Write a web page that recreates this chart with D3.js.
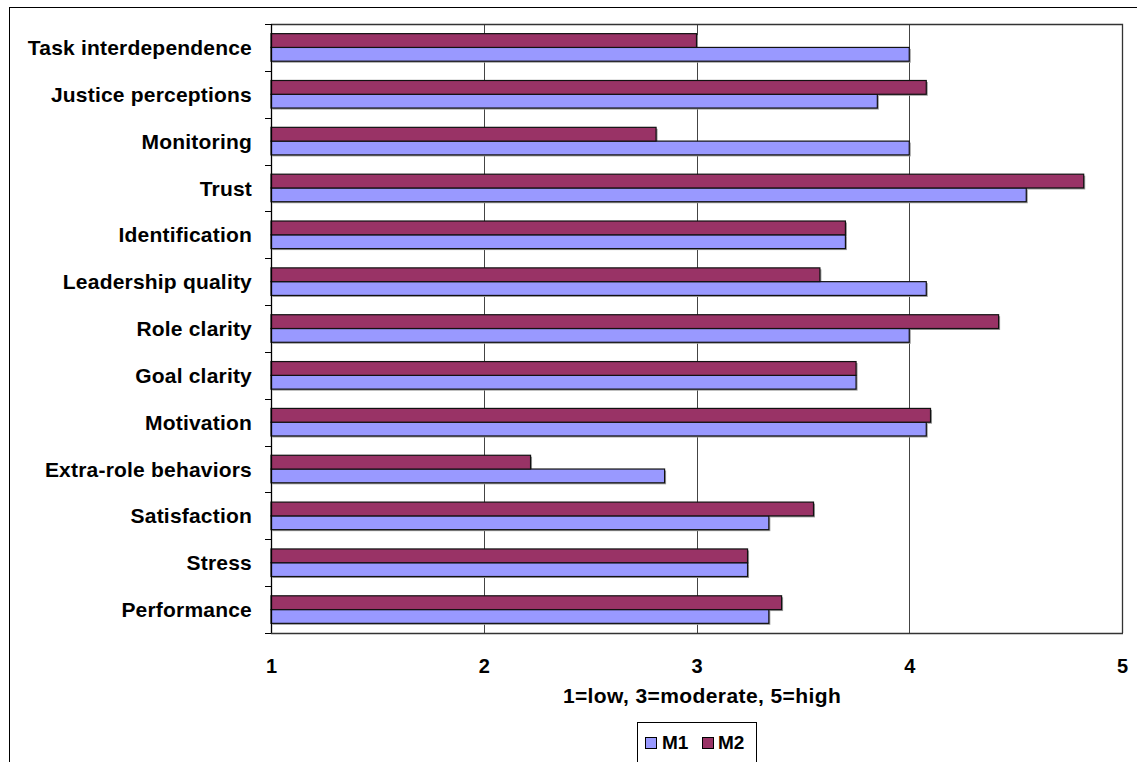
<!DOCTYPE html>
<html>
<head>
<meta charset="utf-8">
<script src="https://cdn.jsdelivr.net/npm/d3@7"></script>
<style>
  html, body { margin: 0; padding: 0; background: #fff; }
  svg { display: block; }
  text { font-family: "Liberation Sans", Arial, sans-serif; font-weight: bold; fill: #000; }
</style>
</head>
<body>
<svg id="chart" width="1137" height="762"></svg>
<script>
// Team perception scores, two measurement points (M1, M2)
const categories = [
  "Task interdependence", "Justice perceptions", "Monitoring", "Trust",
  "Identification", "Leadership quality", "Role clarity", "Goal clarity",
  "Motivation", "Extra-role behaviors", "Satisfaction", "Stress", "Performance"
];
const seriesNames = ["M1", "M2"];
const m1Values = [4.00, 3.85, 4.00, 4.55, 3.70, 4.08, 4.00, 3.75, 4.08, 2.85, 3.34, 3.24, 3.34];
const m2Values = [3.00, 4.08, 2.81, 4.82, 3.70, 3.58, 4.42, 3.75, 4.10, 2.22, 3.55, 3.24, 3.40];
const xTicks = [1, 2, 3, 4, 5];
const xTitle = "1=low, 3=moderate, 5=high";

const colors = { M1: "#9999FF", M2: "#993366" };

const svg = d3.select("#chart");
const plot = { left: 271, right: 1122, top: 24, bottom: 633 };

// outer chart frame
svg.append("rect")
  .attr("x", 9.5).attr("y", 7.5)
  .attr("width", 1140).attr("height", 770)
  .attr("fill", "#fff").attr("stroke", "#000").attr("stroke-width", 1);

const x = d3.scaleLinear().domain([1, 5]).range([plot.left, plot.right]);
const y = d3.scaleBand().domain(categories).range([plot.top, plot.bottom]).padding(0);
// within each category M2 sits above M1
const ySub = d3.scaleBand().domain(["M2", "M1"]).range([0, y.bandwidth()]).paddingInner(0).paddingOuter(0.7);

// vertical gridlines
svg.append("g")
  .selectAll("line")
  .data(xTicks.slice(1, -1))
  .join("line")
  .attr("x1", d => Math.round(x(d)) + 0.5).attr("x2", d => Math.round(x(d)) + 0.5)
  .attr("y1", plot.top).attr("y2", plot.bottom)
  .attr("stroke", "#444").attr("stroke-width", 1);

// plot area border (top and right)
svg.append("path")
  .attr("d", `M${plot.left},${plot.top + 0.5}H${plot.right + 0.5}V${plot.bottom}`)
  .attr("fill", "none").attr("stroke", "#333").attr("stroke-width", 1.3);

const rows = categories.map((c, i) => ({ cat: c, M1: m1Values[i], M2: m2Values[i] }));
const barData = rows.flatMap(r => seriesNames.map(s => ({ cat: r.cat, series: s, value: r[s] })));

const bars = svg.append("g");
// soft drop shadow under each bar
bars.selectAll("rect.shadow")
  .data(barData)
  .join("rect")
  .attr("class", "shadow")
  .attr("x", x(1) + 1.5)
  .attr("y", d => y(d.cat) + ySub(d.series) + 1.5)
  .attr("width", d => x(d.value) - x(1))
  .attr("height", ySub.bandwidth())
  .attr("fill", "#9a9a9a");

bars.selectAll("rect.bar")
  .data(barData)
  .join("rect")
  .attr("class", "bar")
  .attr("x", x(1))
  .attr("y", d => y(d.cat) + ySub(d.series))
  .attr("width", d => x(d.value) - x(1))
  .attr("height", ySub.bandwidth())
  .attr("fill", d => colors[d.series])
  .attr("stroke", "#111").attr("stroke-width", 1.2);

// category axis
const yAxis = d3.axisLeft(y).tickSize(0).tickPadding(19);
const gy = svg.append("g").attr("transform", `translate(${plot.left},0)`).call(yAxis);
gy.select(".domain").remove();
gy.selectAll("text")
  .attr("font-size", 21).attr("letter-spacing", 0.2).attr("font-family", null).attr("fill", "#000")
  .attr("dy", "0.36em");

// axis line with ticks at category boundaries
const boundaries = categories.map(c => y(c)).concat([plot.bottom]);
svg.append("g").selectAll("line")
  .data(boundaries)
  .join("line")
  .attr("x1", plot.left - 6).attr("x2", plot.left)
  .attr("y1", d => Math.round(d) + 0.5).attr("y2", d => Math.round(d) + 0.5)
  .attr("stroke", "#000");
svg.append("line")
  .attr("x1", plot.left + 0.5).attr("x2", plot.left + 0.5)
  .attr("y1", plot.top).attr("y2", plot.bottom + 0.5)
  .attr("stroke", "#000").attr("stroke-width", 1.3);
svg.append("line")
  .attr("x1", plot.left).attr("x2", plot.right + 1)
  .attr("y1", plot.bottom + 0.5).attr("y2", plot.bottom + 0.5)
  .attr("stroke", "#333").attr("stroke-width", 1.3);

// value axis labels
const xAxis = d3.axisBottom(x).tickValues(xTicks).tickSize(0).tickPadding(26).tickFormat(d3.format("d"));
const gx = svg.append("g").attr("transform", `translate(0,${plot.bottom})`).call(xAxis);
gx.select(".domain").remove();
gx.selectAll("text").attr("font-size", 20).attr("font-family", null).attr("fill", "#000");

svg.append("text")
  .attr("x", 702).attr("y", 703)
  .attr("text-anchor", "middle")
  .attr("font-size", 21).attr("letter-spacing", 0.4)
  .text(xTitle);

// legend
const legend = svg.append("g");
legend.append("rect")
  .attr("x", 637.5).attr("y", 722.5).attr("width", 119).attr("height", 60)
  .attr("fill", "#fff").attr("stroke", "#000");
const legendItems = [
  { name: "M1", sx: 645, tx: 662 },
  { name: "M2", sx: 702, tx: 718 }
];
legend.selectAll("rect.swatch")
  .data(legendItems)
  .join("rect")
  .attr("class", "swatch")
  .attr("x", d => d.sx + 0.5).attr("y", 737.5)
  .attr("width", 11).attr("height", 11)
  .attr("fill", d => colors[d.name]).attr("stroke", "#000");
legend.selectAll("text")
  .data(legendItems)
  .join("text")
  .attr("x", d => d.tx).attr("y", 749)
  .attr("font-size", 19)
  .text(d => d.name);
</script>
</body>
</html>
